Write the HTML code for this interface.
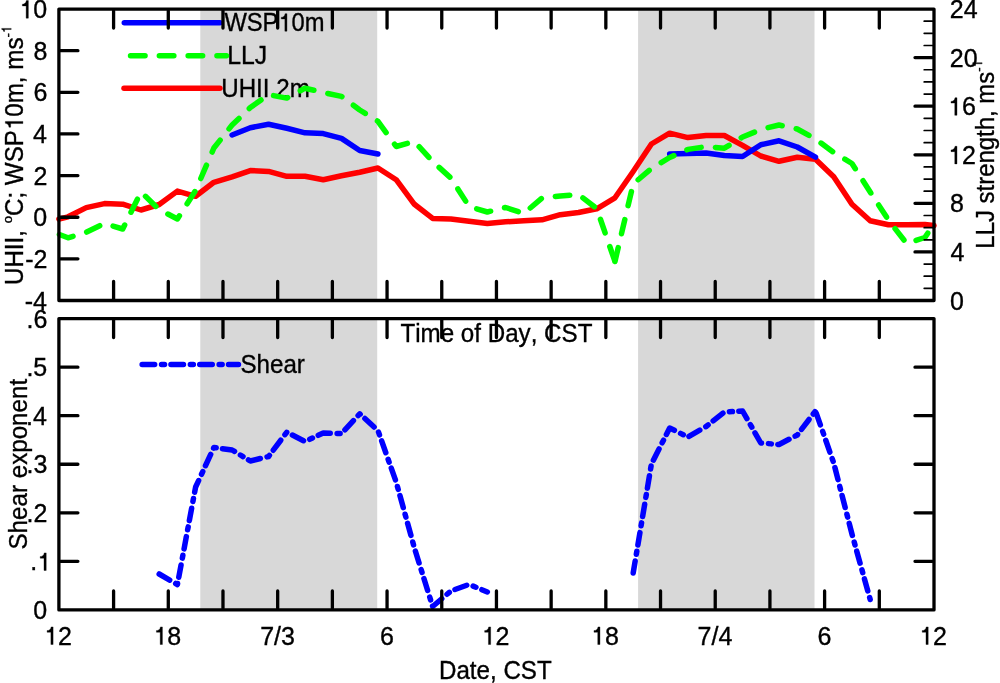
<!DOCTYPE html>
<html><head><meta charset="utf-8"><style>html,body{margin:0;padding:0;background:#fff;}svg{display:block;will-change:transform;}text{font-family:"Liberation Sans",sans-serif;fill:#000;}</style></head><body>
<svg width="1000" height="683" viewBox="0 0 1000 683">
<rect x="0" y="0" width="1000" height="683" fill="#fff"/>
<rect x="200.3" y="9.05" width="176.9" height="291.45" fill="#d8d8d8"/>
<rect x="638.1" y="9.05" width="176.4" height="291.45" fill="#d8d8d8"/>
<rect x="200.3" y="318.6" width="176.9" height="291.3" fill="#d8d8d8"/>
<rect x="638.1" y="318.6" width="176.4" height="291.3" fill="#d8d8d8"/>
<defs><clipPath id="cu"><rect x="54.9" y="9.05" width="883.1" height="291.45"/></clipPath><clipPath id="cl"><rect x="58.9" y="318.6" width="875.1" height="291.3"/></clipPath></defs>
<g font-size="25" style="font-kerning:none" stroke="#000" stroke-width="0.35">
<g transform="translate(19.37 18.15) scale(1.0000 1)"><text> 0</text><path vector-effect="non-scaling-stroke" transform="translate(0 0) scale(0.02500 -0.02500)" d="M359 0H271V490H120V557C200 560 262 590 282 703H359Z"/></g>
<g transform="translate(33.38 59.79) scale(1.0000 1)"><text>8</text></g>
<g transform="translate(33.39 101.42) scale(1.0000 1)"><text>6</text></g>
<g transform="translate(33.03 143.06) scale(1.0000 1)"><text>4</text></g>
<g transform="translate(33.55 184.69) scale(1.0000 1)"><text>2</text></g>
<g transform="translate(33.27 226.33) scale(1.0000 1)"><text>0</text></g>
<g transform="translate(25.23 267.96) scale(1.0000 1)"><text>-2</text></g>
<g transform="translate(24.7 309.6) scale(1.0000 1)"><text>-4</text></g>
<g transform="translate(950.02 309.6) scale(1.0000 1)"><text>0</text></g>
<g transform="translate(950.43 261.03) scale(1.0000 1)"><text>4</text></g>
<g transform="translate(949.91 212.45) scale(1.0000 1)"><text>8</text></g>
<g transform="translate(948 163.88) scale(1.0000 1)"><text> 2</text><path vector-effect="non-scaling-stroke" transform="translate(0 0) scale(0.02500 -0.02500)" d="M359 0H271V490H120V557C200 560 262 590 282 703H359Z"/></g>
<g transform="translate(948 115.3) scale(1.0000 1)"><text> 6</text><path vector-effect="non-scaling-stroke" transform="translate(0 0) scale(0.02500 -0.02500)" d="M359 0H271V490H120V557C200 560 262 590 282 703H359Z"/></g>
<g transform="translate(949.74 66.72) scale(1.0000 1)"><text>20</text></g>
<g transform="translate(949.74 18.15) scale(1.0000 1)"><text>24</text></g>
<g transform="translate(33.27 619) scale(1.0000 1)"><text>0</text></g>
<g transform="translate(30.28 570.45) scale(1.0000 1)"><text>. </text><path vector-effect="non-scaling-stroke" transform="translate(6.95 0) scale(0.02500 -0.02500)" d="M359 0H271V490H120V557C200 560 262 590 282 703H359Z"/></g>
<g transform="translate(26.61 521.9) scale(1.0000 1)"><text>.2</text></g>
<g transform="translate(26.45 473.35) scale(1.0000 1)"><text>.3</text></g>
<g transform="translate(26.08 424.8) scale(1.0000 1)"><text>.4</text></g>
<g transform="translate(26.4 376.25) scale(1.0000 1)"><text>.5</text></g>
<g transform="translate(26.45 327.7) scale(1.0000 1)"><text>.6</text></g>
<g transform="translate(44.12 644.5) scale(1.0000 1)"><text> 2</text><path vector-effect="non-scaling-stroke" transform="translate(0 0) scale(0.02500 -0.02500)" d="M359 0H271V490H120V557C200 560 262 590 282 703H359Z"/></g>
<g transform="translate(153.43 644.5) scale(1.0000 1)"><text> 8</text><path vector-effect="non-scaling-stroke" transform="translate(0 0) scale(0.02500 -0.02500)" d="M359 0H271V490H120V557C200 560 262 590 282 703H359Z"/></g>
<g transform="translate(260.21 644.5) scale(1.0000 1)"><text>7/3</text></g>
<g transform="translate(380.03 644.5) scale(1.0000 1)"><text>6</text></g>
<g transform="translate(481.67 644.5) scale(1.0000 1)"><text> 2</text><path vector-effect="non-scaling-stroke" transform="translate(0 0) scale(0.02500 -0.02500)" d="M359 0H271V490H120V557C200 560 262 590 282 703H359Z"/></g>
<g transform="translate(590.98 644.5) scale(1.0000 1)"><text> 8</text><path vector-effect="non-scaling-stroke" transform="translate(0 0) scale(0.02500 -0.02500)" d="M359 0H271V490H120V557C200 560 262 590 282 703H359Z"/></g>
<g transform="translate(697.57 644.5) scale(1.0000 1)"><text>7/4</text></g>
<g transform="translate(817.58 644.5) scale(1.0000 1)"><text>6</text></g>
<g transform="translate(919.22 644.5) scale(1.0000 1)"><text> 2</text><path vector-effect="non-scaling-stroke" transform="translate(0 0) scale(0.02500 -0.02500)" d="M359 0H271V490H120V557C200 560 262 590 282 703H359Z"/></g>
<g transform="translate(224.4 31.2) scale(0.9488 1)"><text>WSP 0m</text><path vector-effect="non-scaling-stroke" transform="translate(56.95 0) scale(0.02500 -0.02500)" d="M359 0H271V490H120V557C200 560 262 590 282 703H359Z"/></g>
<g transform="translate(227.17 64.4) scale(0.9917 1)"><text>LLJ</text></g>
<g transform="translate(221.24 96.7) scale(0.9660 1)"><text>UHII 2m</text></g>
<g transform="translate(240.45 373.1) scale(0.9661 1)"><text>Shear</text></g>
<g transform="translate(400.46 341.7) scale(0.9665 1)"><text>Time of Day, CST</text></g>
<g transform="translate(439.02 678.6) scale(0.9660 1)"><text>Date, CST</text></g>
<g transform="translate(22.9 283.2) rotate(-90) scale(0.9668 1) translate(-1.93 0)"><text>UHII, <tspan font-size="13.5" baseline-shift="11.7">o</tspan>C; WSP 0m, ms<tspan font-size="13.5" baseline-shift="11.7">- </tspan></text><path vector-effect="non-scaling-stroke" transform="translate(160.29 0) scale(0.02500 -0.02500)" d="M359 0H271V490H120V557C200 560 262 590 282 703H359Z"/><path vector-effect="non-scaling-stroke" transform="translate(260.64 -11.7) scale(0.01350 -0.01350)" d="M359 0H271V490H120V557C200 560 262 590 282 703H359Z"/></g>
<g transform="translate(993.8 246.7) rotate(-90) scale(0.9579 1) translate(-2.05 0)"><text>LLJ strength, ms<tspan font-size="13.5" baseline-shift="11.7">- </tspan></text><path vector-effect="non-scaling-stroke" transform="translate(189.3 -11.7) scale(0.01350 -0.01350)" d="M359 0H271V490H120V557C200 560 262 590 282 703H359Z"/></g>
<g transform="translate(26.8 548.4) rotate(-90) scale(0.9674 1) translate(-1.14 0)"><text>Shear exponent</text></g>
</g>
<g fill="none" stroke-width="5.5" stroke-linecap="round" stroke-linejoin="round">
<polyline stroke="#ff0000" points="58.9,219.1 68.02,216.8 86.25,207.6 104.48,203.6 122.71,204.2 140.94,210 159.17,204.5 177.4,191.1 195.63,196.3 213.87,182.3 232.1,176.8 250.33,170.6 268.56,171.4 286.79,176.3 305.02,176.3 323.25,179.7 341.48,175.8 359.72,172.3 377.95,168 396.18,179.7 414.41,204.3 432.64,218.4 450.87,219 469.1,221.3 487.33,223.5 505.57,221.8 523.8,220.8 542.03,219.8 560.26,214.7 578.49,212.5 596.72,208.8 614.95,197.8 633.18,171.5 651.42,144 669.65,133.2 687.88,137.6 706.11,135.6 724.34,135.5 742.57,145.3 760.8,156 779.03,161.3 797.27,157.2 815.5,159.2 833.73,176.7 851.96,204.3 870.19,220.7 888.42,224.8 906.65,224.8 924.88,224.6 934,225.6"/>
<polyline stroke="#0000ff" points="232.1,135 250.33,127.7 268.56,124.2 286.79,128.3 305.02,132.8 323.25,133.6 341.48,138.4 359.72,150.5 377.95,154"/>
<polyline stroke="#0000ff" points="669.65,154 687.88,153.5 706.11,153 724.34,155.5 742.57,156.5 760.8,144.75 779.03,140.8 797.27,147 815.5,157.2"/>
<polyline stroke="#00ff00" stroke-dasharray="14.5 14.3" stroke-dashoffset="-0.5" points="58.9,234.3 68.02,237.8 86.25,232.3 104.48,223.4 122.71,229 140.94,192 159.17,209.5 177.4,219 195.63,190.5 213.87,148 232.1,125 250.33,107.5 268.56,94.7 286.79,98.1 305.02,88.2 323.25,92.5 341.48,96.4 359.72,110 377.95,121.3 396.18,146.5 414.41,141.5 432.64,161.5 450.87,178 469.1,206.5 487.33,212 505.57,207.5 523.8,213.5 542.03,198 560.26,196 578.49,194.5 596.72,208.5 614.95,261.5"/>
<polyline stroke="#00ff00" stroke-dasharray="14.5 14.3" stroke-dashoffset="0.25" points="614.95,261.5 633.18,184 651.42,168.5 669.65,157.5 687.88,149.4 706.11,146.6 724.34,148.2 742.57,137 760.8,129.5 779.03,125 797.27,129 815.5,139 833.73,152.5 851.96,163.5 870.19,192 888.42,220 906.65,243.5 924.88,237.5 928.53,232"/>
<polyline stroke="#0000ff" stroke-dasharray="12.5 6.9 3 6.4" stroke-dashoffset="0.35" points="159.17,574 177.4,584.5 195.63,487 213.87,447.5 232.1,450 250.33,461 268.56,456.5 286.79,432.2 305.02,441.5 323.25,433 341.48,433.5 359.72,413.8 377.95,430.5 396.18,482 414.41,548 432.64,606.5 450.87,591 469.1,584.4 487.33,592"/>
<polyline stroke="#0000ff" stroke-dasharray="12.5 6.9 3 6.4" stroke-dashoffset="0.35" points="633.18,573 651.42,464 669.65,428 687.88,437 706.11,426.5 724.34,412 742.57,411 760.8,443 779.03,444.5 797.27,435 815.5,411"/>
<polyline stroke="#0000ff" stroke-dasharray="12.5 6.9 3 6.4" stroke-dashoffset="-2.2" points="815.5,411 833.73,463 851.96,534 870.19,599.5"/>
<line x1="124.3" y1="22.8" x2="220" y2="22.8" stroke="#0000ff"/>
<line x1="130.55" y1="55.8" x2="226.45" y2="55.8" stroke="#00ff00" stroke-dasharray="14.5 14.3"/>
<line x1="124" y1="88.3" x2="219.9" y2="88.3" stroke="#ff0000"/>
<line x1="142.15" y1="364.6" x2="238.45" y2="364.6" stroke="#0000ff" stroke-dasharray="12.5 6.9 3 6.4"/>
</g>
<g fill="none" stroke="#000" stroke-linecap="round" stroke-linejoin="round">
<rect x="58.9" y="9.05" width="875.1" height="291.45" stroke-width="3.3"/>
<rect x="58.9" y="318.6" width="875.1" height="291.3" stroke-width="3.3"/>
<path stroke-width="3.3" d="M113.59 10.65V28.05M113.59 298.9V281.5M168.29 10.65V28.05M168.29 298.9V281.5M222.98 10.65V28.05M222.98 298.9V281.5M277.68 10.65V28.05M277.68 298.9V281.5M332.37 10.65V28.05M332.37 298.9V281.5M387.06 10.65V28.05M387.06 298.9V281.5M441.76 10.65V28.05M441.76 298.9V281.5M496.45 10.65V28.05M496.45 298.9V281.5M551.14 10.65V28.05M551.14 298.9V281.5M605.84 10.65V28.05M605.84 298.9V281.5M660.53 10.65V28.05M660.53 298.9V281.5M715.23 10.65V28.05M715.23 298.9V281.5M769.92 10.65V28.05M769.92 298.9V281.5M824.61 10.65V28.05M824.61 298.9V281.5M879.31 10.65V28.05M879.31 298.9V281.5M113.59 320.2V337.6M113.59 608.3V590.9M168.29 320.2V337.6M168.29 608.3V590.9M222.98 320.2V337.6M222.98 608.3V590.9M277.68 320.2V337.6M277.68 608.3V590.9M332.37 320.2V337.6M332.37 608.3V590.9M387.06 320.2V337.6M387.06 608.3V590.9M441.76 320.2V337.6M441.76 608.3V590.9M496.45 320.2V337.6M496.45 608.3V590.9M551.14 320.2V337.6M551.14 608.3V590.9M605.84 320.2V337.6M605.84 608.3V590.9M660.53 320.2V337.6M660.53 608.3V590.9M715.23 320.2V337.6M715.23 608.3V590.9M769.92 320.2V337.6M769.92 608.3V590.9M824.61 320.2V337.6M824.61 608.3V590.9M879.31 320.2V337.6M879.31 608.3V590.9M60.5 258.86H77.9M60.5 217.23H77.9M60.5 175.59H77.9M60.5 133.96H77.9M60.5 92.32H77.9M60.5 50.69H77.9M932.4 251.93H915M932.4 203.35H915M932.4 154.78H915M932.4 106.2H915M932.4 57.62H915M60.5 561.35H77.9M932.4 561.35H915M60.5 512.8H77.9M932.4 512.8H915M60.5 464.25H77.9M932.4 464.25H915M60.5 415.7H77.9M932.4 415.7H915M60.5 367.15H77.9M932.4 367.15H915"/>
<path stroke-width="1.7" d="M932.4 288.36H924.2M932.4 276.21H924.2M932.4 264.07H924.2M932.4 239.78H924.2M932.4 227.64H924.2M932.4 215.49H924.2M932.4 191.21H924.2M932.4 179.06H924.2M932.4 166.92H924.2M932.4 142.63H924.2M932.4 130.49H924.2M932.4 118.34H924.2M932.4 94.06H924.2M932.4 81.91H924.2M932.4 69.77H924.2M932.4 45.48H924.2M932.4 33.34H924.2M932.4 21.19H924.2"/>
</g>
</svg></body></html>
